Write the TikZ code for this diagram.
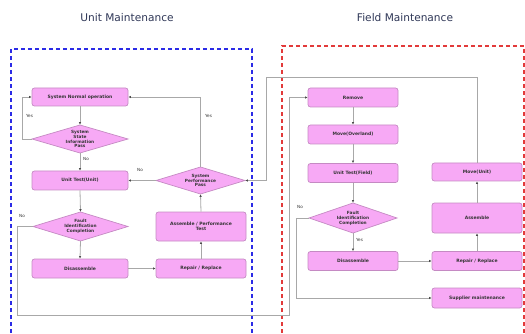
\documentclass[tikz,border=0pt]{standalone}
\usepackage{fontspec}
\setmainfont{DejaVu Sans}
\usetikzlibrary{arrows.meta}
\definecolor{boxfill}{HTML}{F7A9F5}
\definecolor{boxline}{HTML}{C58AC3}
\definecolor{connc}{HTML}{A8A8A8}
\definecolor{titlec}{HTML}{2E3656}
\definecolor{blueb}{HTML}{2B2BE6}
\definecolor{redb}{HTML}{E23A3A}
\tikzset{
  x=1pt,y=-1pt,
  stepbox/.style={draw=boxline,fill=boxfill,line width=0.7pt,rounded corners=2.5pt,
    minimum width=90pt,minimum height=19pt,inner sep=0pt,
    font=\fontsize{4.5}{5.2}\selectfont\bfseries,text=black!80,align=center},
  dtext/.style={inner sep=0pt,font=\fontsize{4.3}{4.9}\selectfont\bfseries,text=black!80,align=center},
  diashape/.style={draw=boxline,fill=boxfill,line width=0.7pt},
  conn/.style={draw=connc,line width=0.8pt,-{Latex[length=2.6pt,width=2.4pt,color=black!70]}},
  lab/.style={font=\fontsize{4.2}{5}\selectfont,text=black!80,inner sep=0pt,anchor=west},
  ttl/.style={font=\fontsize{10.6}{12}\selectfont,text=titlec},
}
\newcommand{\mydiam}[6]{%
  \path[diashape] ({#2-#4/2},#3) -- (#2,{#3-#5/2}) -- ({#2+#4/2},#3) -- (#2,{#3+#5/2}) -- cycle;
  \node[dtext,minimum width=#4 pt,minimum height=#5 pt] (#1) at (#2,#3) {#6};}
\begin{document}
\begin{tikzpicture}
\useasboundingbox (0,0) rectangle (525,334);
% titles
\node[ttl] (t1) at (127,18) {Unit Maintenance};
\node[ttl] (t2) at (405,18) {Field Maintenance};
% frames
\draw[blueb,line width=1.3pt,dash pattern=on 4pt off 3pt] (11,340) -- (11,49) -- (252,49) -- (252,340);
\draw[redb,line width=1.3pt,dash pattern=on 4pt off 3pt] (282,340) -- (282,46) -- (524,46) -- (524,340);
% left nodes
\node[stepbox,minimum width=96pt,minimum height=18pt] (sno) at (80,97) {System Normal operation};
\mydiam{ssi}{80}{139}{96}{28}{System\\State\\Information\\Pass}
\node[stepbox,minimum width=96pt] (ut) at (80,180.5) {Unit Test(Unit)};
\mydiam{spp}{200.5}{180.5}{89}{27}{System\\Performance\\Pass}
\mydiam{fi}{80.5}{226.5}{95}{29}{Fault\\Identification\\Completion}
\node[stepbox,minimum width=96pt] (dis) at (80,268.5) {Disassemble};
\node[stepbox] (rep) at (201,268.5) {Repair / Replace};
\node[stepbox,minimum height=29pt] (asp) at (201,226.5) {Assemble / Performance\\Test};
% right nodes
\node[stepbox] (rem) at (353,97.5) {Remove};
\node[stepbox] (mo) at (353,134.5) {Move(Overland)};
\node[stepbox] (utf) at (353,173) {Unit Test(Field)};
\mydiam{ff}{353}{218}{88}{30}{Fault\\Identification\\Completion}
\node[stepbox] (dis2) at (353,261) {Disassemble};
\node[stepbox] (rep2) at (477,261) {Repair / Replace};
\node[stepbox,minimum height=30pt] (asm) at (477,218) {Assemble};
\node[stepbox,minimum height=18pt] (mu) at (477,172) {Move(Unit)};
\node[stepbox,minimum height=20pt] (sup) at (477,298) {Supplier maintenance};
% bend points
\coordinate (c1) at (17,315);
\coordinate (c2) at (289,315);
\coordinate (c3) at (266,77);
\coordinate (c4) at (296,298);
% left connectors
\draw[conn] (sno.south) -- (ssi.north);
\draw[conn] (ssi.west) -- ++(-9,0) |- (sno.west);
\draw[conn] (ssi.south) -- (ut.north);
\draw[conn] (spp.west) -- (ut.east);
\draw[conn] (spp.north) |- (sno.east);
\draw[conn] (ut.south) -- (fi.north);
\draw[conn] (fi.west) -| (c1) -- (c2) |- (rem.west);
\draw[conn] (fi.south) -- (dis.north);
\draw[conn] (dis.east) -- (rep.west);
\draw[conn] (rep.north) -- (asp.south);
\draw[conn] (asp.north) -- (spp.south);
% right connectors
\draw[conn] (rem.south) -- (mo.north);
\draw[conn] (mo.south) -- (utf.north);
\draw[conn] (utf.south) -- (ff.north);
\draw[conn] (ff.south) -- (dis2.north);
\draw[conn] (ff.west) -| (c4) -- (sup.west);
\draw[conn] (dis2.east) -- (rep2.west);
\draw[conn] (rep2.north) -- (asm.south);
\draw[conn] (asm.north) -- (mu.south);
\draw[conn] (mu.north) |- (c3) |- (spp.east);
% labels
\node[lab] (y1) at (26,116) {Yes};
\node[lab] (n1) at (83,159) {No};
\node[lab] (n2) at (137,169.5) {No};
\node[lab] (y2) at (205,116) {Yes};
\node[lab] (n3) at (19,216) {No};
\node[lab] (y3) at (356,240) {Yes};
\node[lab] (n4) at (297,207) {No};
\end{tikzpicture}
\end{document}
